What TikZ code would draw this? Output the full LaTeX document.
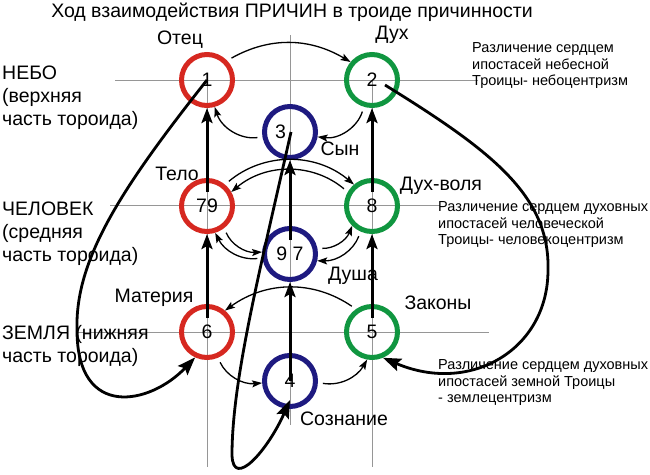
\documentclass[tikz,border=0pt]{standalone}
\usepackage{fontspec}
\setmainfont{Liberation Sans}
\usepackage{xcolor}
\usepackage{tikz}
\usetikzlibrary{arrows.meta,positioning}

\definecolor{ringred}{RGB}{214,40,32}
\definecolor{ringgreen}{RGB}{16,150,64}
\definecolor{ringblue}{RGB}{30,26,128}
\definecolor{gridgray}{RGB}{150,150,150}

\tikzset{
  lbl/.style={inner sep=0pt,text height=14pt,text depth=0pt,font=\fontsize{19.5}{23}\selectfont},
  bigtext/.style={anchor=west,align=left,inner sep=0pt,font=\fontsize{19.5}{23}\selectfont},
  smalltext/.style={anchor=west,align=left,inner sep=0pt,font=\fontsize{14.5}{16.5}\selectfont},
  thinarrow/.style={draw=black,line width=1.3pt,shorten <=5pt,-{Stealth[length=10pt,width=7pt,inset=2pt]}},
  thickarrow/.style={draw=black,line width=3pt,-{Stealth[length=15pt,width=11pt,inset=3pt]}},
  bigarrow/.style={draw=black,line width=2.8pt,-{Stealth[length=18pt,width=13pt,inset=3pt]}}
}

\begin{document}
\begin{tikzpicture}[x=1pt,y=1pt]
  \useasboundingbox (0,0) rectangle (650,-474);

  \begin{scope}[draw=gridgray,line width=0.8pt]
    \draw (115,-80) -- (478,-80);
    \draw (110,-205) -- (440,-205);
    \draw (78,-332) -- (489,-332);
    \draw (207,-80) -- (207,-467);
    \draw (290,-35) -- (290,-425);
    \draw (372,-80) -- (372,-467);
  \end{scope}

  \node[lbl] (title) at (292,-10) {Ход взаимодействия ПРИЧИН в троиде причинности};

  \begin{scope}[every node/.style={circle,line width=5pt,minimum size=51pt,inner sep=0pt,
      font=\fontsize{19.5}{23}\selectfont}]
    \node[draw=ringred] (c1) at (207,-80) {1};
    \node[draw=ringgreen] (c2) at (372,-80) {2};
    \node[draw=ringblue] (c3) at (290,-132) {\makebox[0pt][r]{3\hspace{4pt}}};
    \node[draw=ringred] (c79) at (207,-206) {79};
    \node[draw=ringgreen] (c8) at (372,-206) {8};
    \node[draw=ringblue] (c97) at (290,-254) {9 7};
    \node[draw=ringred] (c6) at (207,-332) {6};
    \node[draw=ringgreen] (c5) at (372,-332) {5};
    \node[draw=ringblue] (c4) at (290,-381) {4};
  \end{scope}

  \node[lbl] (otec) at (180,-37) {Отец};
  \node[lbl] (duh) at (392,-32) {Дух};
  \node[lbl] (syn) at (340,-148) {Сын};
  \node[lbl] (telo) at (177,-173) {Тело};
  \node[lbl] (duhvolya) at (441,-183) {Дух-воля};
  \node[lbl] (dusha) at (353,-273) {Душа};
  \node[lbl] (materia) at (154,-295) {Материя};
  \node[lbl] (zakony) at (438,-302) {Законы};
  \node[lbl] (soznanie) at (344,-418) {Сознание};

  \node[bigtext] (nebo) at (2,-97.5) {НЕБО\\(верхняя\\часть тороида)};
  \node[bigtext] (chelovek) at (2,-233.5) {ЧЕЛОВЕК\\(средняя\\часть тороида)};
  \node[bigtext] (zemlya) at (2,-345.5) {ЗЕМЛЯ (нижняя\\часть тороида)};

  \node[smalltext] (nebotext) at (472,-65.8) {Различение сердцем\\ипостасей небесной\\Троицы- небоцентризм};
  \node[smalltext] (chelotext) at (438,-225) {Различение сердцем духовных\\ипостасей человеческой\\Троицы- человекоцентризм};
  \node[smalltext] (zemtext) at (438,-383) {Различение сердцем духовных\\ипостасей земной Троицы\\- землецентризм};

  \begin{scope}[every edge/.style={thinarrow}]
    \path (c1.44) edge[bend left=30] (c2.140);
    \path (c3.190) edge[bend left=40] (c1.-74);
    \path (c2.253) edge[bend left=40] (c3.-10);
    \path (c79.50) edge[bend left=40] (c8.130);
    \path (c8.150) edge[bend right=40] (c79.30);
    \path (c79.-52) edge[bend right=35] (c97.176);
    \path (c97.188) edge[bend left=35] (c79.-73);
    \path (c97.12) edge[bend right=35] (c8.225);
    \path (c8.246) edge[bend left=35] (c97.-14);
    \path (c5.125) edge[bend right=35] (c6.50);
    \path (c6.-67) edge[bend right=35] (c4.184);
    \path (c4.-3) edge[bend right=35] (c5.260);
  \end{scope}

  \begin{scope}[every edge/.style={thickarrow}]
    \path ([yshift=14pt]c79.center) edge (c1.south);
    \path ([yshift=14pt]c6.center) edge (c79.south);
    \path ([yshift=14pt]c97.center) edge (c3.south);
    \path (c4.center) edge (c97.south);
    \path ([yshift=14pt]c8.center) edge (c2.south);
    \path ([yshift=14pt]c5.center) edge (c8.south);
  \end{scope}

  \draw[bigarrow] (c1.center) .. controls (120,-190) and (75,-260) .. (77,-330)
    .. controls (77,-420) and (150,-405) .. (c6.245);
  \draw[bigarrow] ([shift={(13pt,-5pt)}]c2.center) .. controls (490,-150) and (550,-195) .. (548,-270)
    .. controls (548,-350) and (470,-395) .. (c5.-67);
  \draw[bigarrow] ([xshift=1pt]c3.center) .. controls (260,-270) and (232,-380) .. (232,-455)
    .. controls (233,-490) and (268,-450) .. ([yshift=-19pt]c4.center);
\end{tikzpicture}
\end{document}
